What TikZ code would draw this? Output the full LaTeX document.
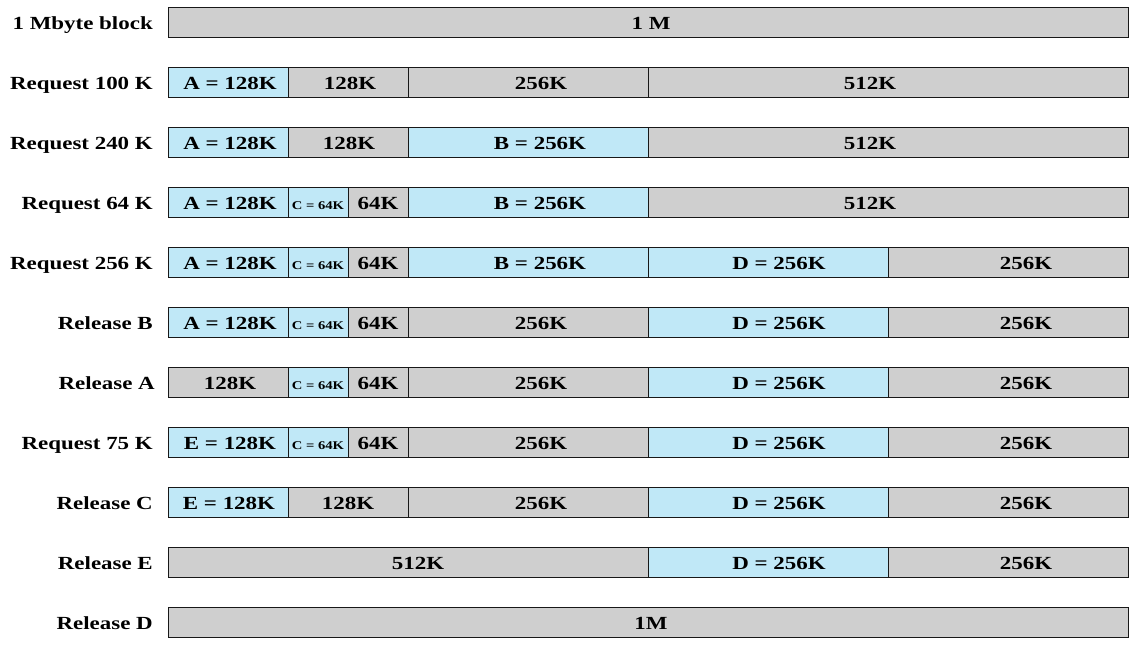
\documentclass[tikz,border=0pt]{standalone}
\usepackage{fontspec}
\setmainfont{Liberation Serif}[FakeStretch=1.24]
\definecolor{buddycolor0000}{RGB}{24,24,24}
\definecolor{buddycolor0001}{RGB}{207,207,207}
\definecolor{buddycolor0002}{RGB}{192,232,247}

\begin{document}
\begin{tikzpicture}[yscale=-1
,pstyle0/.style={draw=buddycolor0000,fill=buddycolor0001,line width=1.8pt}
,pstyle1/.style={draw=buddycolor0000,fill=buddycolor0002,line width=1.8pt}
,pstyle2/.style={anchor=base,inner sep=0pt,color=black,font=\bfseries\fontsize{18.5}{18.5}\selectfont}
,pstyle3/.style={anchor=base,inner sep=0pt,color=black,font=\bfseries\fontsize{11.8}{11.8}\selectfont}
,pstyle4/.style={anchor=base east,inner sep=0pt,color=black,font=\bfseries\fontsize{18.5}{18.5}\selectfont}
]
\useasboundingbox (0pt,0pt) rectangle (1138pt,649pt);
% 1 Mbyte block
\node[pstyle4] (lbl0) at (153pt,29.5pt) {1 Mbyte block};
\draw[pstyle0] (168.5pt,7.5pt) rectangle (1128.5pt,37.5pt);
\node[pstyle2] (t0a) at (651pt,29.5pt) {1 M};
% Request 100 K
\node[pstyle4] (lbl1) at (153pt,89.5pt) {Request 100 K};
\draw[pstyle1] (168.5pt,67.5pt) rectangle (288.5pt,97.5pt);
\draw[pstyle0] (288.5pt,67.5pt) rectangle (408.5pt,97.5pt);
\draw[pstyle0] (408.5pt,67.5pt) rectangle (648.5pt,97.5pt);
\draw[pstyle0] (648.5pt,67.5pt) rectangle (1128.5pt,97.5pt);
\node[pstyle2] (t1a) at (230pt,89.5pt) {A = 128K};
\node[pstyle2] (t1b) at (350pt,89.5pt) {128K};
\node[pstyle2] (t1c) at (541pt,89.5pt) {256K};
\node[pstyle2] (t1d) at (870pt,89.5pt) {512K};
% Request 240 K
\node[pstyle4] (lbl2) at (153pt,149.5pt) {Request 240 K};
\draw[pstyle1] (168.5pt,127.5pt) rectangle (288.5pt,157.5pt);
\draw[pstyle0] (288.5pt,127.5pt) rectangle (408.5pt,157.5pt);
\draw[pstyle1] (408.5pt,127.5pt) rectangle (648.5pt,157.5pt);
\draw[pstyle0] (648.5pt,127.5pt) rectangle (1128.5pt,157.5pt);
\node[pstyle2] (t2a) at (230pt,149.5pt) {A = 128K};
\node[pstyle2] (t2b) at (349pt,149.5pt) {128K};
\node[pstyle2] (t2c) at (540pt,149.5pt) {B = 256K};
\node[pstyle2] (t2d) at (870pt,149.5pt) {512K};
% Request 64 K
\node[pstyle4] (lbl3) at (153pt,209.5pt) {Request 64 K};
\draw[pstyle1] (168.5pt,187.5pt) rectangle (288.5pt,217.5pt);
\draw[pstyle1] (288.5pt,187.5pt) rectangle (348.5pt,217.5pt);
\draw[pstyle0] (348.5pt,187.5pt) rectangle (408.5pt,217.5pt);
\draw[pstyle1] (408.5pt,187.5pt) rectangle (648.5pt,217.5pt);
\draw[pstyle0] (648.5pt,187.5pt) rectangle (1128.5pt,217.5pt);
\node[pstyle2] (t3a) at (230pt,209.5pt) {A = 128K};
\node[pstyle3] (t3b) at (318pt,209.5pt) {C = 64K};
\node[pstyle2] (t3c) at (378pt,209.5pt) {64K};
\node[pstyle2] (t3d) at (540pt,209.5pt) {B = 256K};
\node[pstyle2] (t3e) at (870pt,209.5pt) {512K};
% Request 256 K
\node[pstyle4] (lbl4) at (153pt,269.5pt) {Request 256 K};
\draw[pstyle1] (168.5pt,247.5pt) rectangle (288.5pt,277.5pt);
\draw[pstyle1] (288.5pt,247.5pt) rectangle (348.5pt,277.5pt);
\draw[pstyle0] (348.5pt,247.5pt) rectangle (408.5pt,277.5pt);
\draw[pstyle1] (408.5pt,247.5pt) rectangle (648.5pt,277.5pt);
\draw[pstyle1] (648.5pt,247.5pt) rectangle (888.5pt,277.5pt);
\draw[pstyle0] (888.5pt,247.5pt) rectangle (1128.5pt,277.5pt);
\node[pstyle2] (t4a) at (230pt,269.5pt) {A = 128K};
\node[pstyle3] (t4b) at (318pt,269.5pt) {C = 64K};
\node[pstyle2] (t4c) at (378pt,269.5pt) {64K};
\node[pstyle2] (t4d) at (540pt,269.5pt) {B = 256K};
\node[pstyle2] (t4e) at (779pt,269.5pt) {D = 256K};
\node[pstyle2] (t4f) at (1026pt,269.5pt) {256K};
% Release B
\node[pstyle4] (lbl5) at (153pt,329.5pt) {Release B};
\draw[pstyle1] (168.5pt,307.5pt) rectangle (288.5pt,337.5pt);
\draw[pstyle1] (288.5pt,307.5pt) rectangle (348.5pt,337.5pt);
\draw[pstyle0] (348.5pt,307.5pt) rectangle (408.5pt,337.5pt);
\draw[pstyle0] (408.5pt,307.5pt) rectangle (648.5pt,337.5pt);
\draw[pstyle1] (648.5pt,307.5pt) rectangle (888.5pt,337.5pt);
\draw[pstyle0] (888.5pt,307.5pt) rectangle (1128.5pt,337.5pt);
\node[pstyle2] (t5a) at (230pt,329.5pt) {A = 128K};
\node[pstyle3] (t5b) at (318pt,329.5pt) {C = 64K};
\node[pstyle2] (t5c) at (378pt,329.5pt) {64K};
\node[pstyle2] (t5d) at (541pt,329.5pt) {256K};
\node[pstyle2] (t5e) at (779pt,329.5pt) {D = 256K};
\node[pstyle2] (t5f) at (1026pt,329.5pt) {256K};
% Release A
\node[pstyle4] (lbl6) at (155pt,389.5pt) {Release A};
\draw[pstyle0] (168.5pt,367.5pt) rectangle (288.5pt,397.5pt);
\draw[pstyle1] (288.5pt,367.5pt) rectangle (348.5pt,397.5pt);
\draw[pstyle0] (348.5pt,367.5pt) rectangle (408.5pt,397.5pt);
\draw[pstyle0] (408.5pt,367.5pt) rectangle (648.5pt,397.5pt);
\draw[pstyle1] (648.5pt,367.5pt) rectangle (888.5pt,397.5pt);
\draw[pstyle0] (888.5pt,367.5pt) rectangle (1128.5pt,397.5pt);
\node[pstyle2] (t6a) at (230pt,389.5pt) {128K};
\node[pstyle3] (t6b) at (318pt,389.5pt) {C = 64K};
\node[pstyle2] (t6c) at (378pt,389.5pt) {64K};
\node[pstyle2] (t6d) at (541pt,389.5pt) {256K};
\node[pstyle2] (t6e) at (779pt,389.5pt) {D = 256K};
\node[pstyle2] (t6f) at (1026pt,389.5pt) {256K};
% Request 75 K
\node[pstyle4] (lbl7) at (153pt,449.5pt) {Request 75 K};
\draw[pstyle1] (168.5pt,427.5pt) rectangle (288.5pt,457.5pt);
\draw[pstyle1] (288.5pt,427.5pt) rectangle (348.5pt,457.5pt);
\draw[pstyle0] (348.5pt,427.5pt) rectangle (408.5pt,457.5pt);
\draw[pstyle0] (408.5pt,427.5pt) rectangle (648.5pt,457.5pt);
\draw[pstyle1] (648.5pt,427.5pt) rectangle (888.5pt,457.5pt);
\draw[pstyle0] (888.5pt,427.5pt) rectangle (1128.5pt,457.5pt);
\node[pstyle2] (t7a) at (230pt,449.5pt) {E = 128K};
\node[pstyle3] (t7b) at (318pt,449.5pt) {C = 64K};
\node[pstyle2] (t7c) at (378pt,449.5pt) {64K};
\node[pstyle2] (t7d) at (541pt,449.5pt) {256K};
\node[pstyle2] (t7e) at (779pt,449.5pt) {D = 256K};
\node[pstyle2] (t7f) at (1026pt,449.5pt) {256K};
% Release C
\node[pstyle4] (lbl8) at (153pt,509.5pt) {Release C};
\draw[pstyle1] (168.5pt,487.5pt) rectangle (288.5pt,517.5pt);
\draw[pstyle0] (288.5pt,487.5pt) rectangle (408.5pt,517.5pt);
\draw[pstyle0] (408.5pt,487.5pt) rectangle (648.5pt,517.5pt);
\draw[pstyle1] (648.5pt,487.5pt) rectangle (888.5pt,517.5pt);
\draw[pstyle0] (888.5pt,487.5pt) rectangle (1128.5pt,517.5pt);
\node[pstyle2] (t8a) at (229pt,509.5pt) {E = 128K};
\node[pstyle2] (t8b) at (348pt,509.5pt) {128K};
\node[pstyle2] (t8c) at (541pt,509.5pt) {256K};
\node[pstyle2] (t8d) at (779pt,509.5pt) {D = 256K};
\node[pstyle2] (t8e) at (1026pt,509.5pt) {256K};
% Release E
\node[pstyle4] (lbl9) at (153pt,569.5pt) {Release E};
\draw[pstyle0] (168.5pt,547.5pt) rectangle (648.5pt,577.5pt);
\draw[pstyle1] (648.5pt,547.5pt) rectangle (888.5pt,577.5pt);
\draw[pstyle0] (888.5pt,547.5pt) rectangle (1128.5pt,577.5pt);
\node[pstyle2] (t9a) at (418pt,569.5pt) {512K};
\node[pstyle2] (t9b) at (779pt,569.5pt) {D = 256K};
\node[pstyle2] (t9c) at (1026pt,569.5pt) {256K};
% Release D
\node[pstyle4] (lbl10) at (153pt,629.5pt) {Release D};
\draw[pstyle0] (168.5pt,607.5pt) rectangle (1128.5pt,637.5pt);
\node[pstyle2] (t10a) at (651pt,629.5pt) {1M};
\end{tikzpicture}
\end{document}
